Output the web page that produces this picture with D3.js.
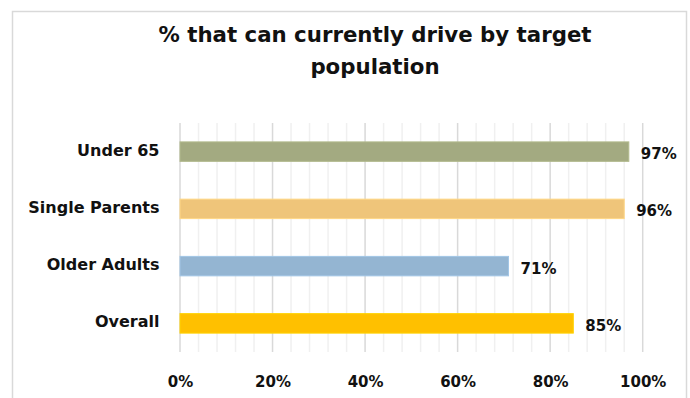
<!DOCTYPE html>
<html>
<head>
<meta charset="utf-8">
<script src="https://cdn.jsdelivr.net/npm/d3@7"></script>
<style>
  html, body { margin: 0; padding: 0; background: #fff; }
  svg { display: block; }
</style>
</head>
<body>
<svg id="chart" width="690" height="398"></svg>
<script>
// Share of each target population that can currently drive
const categories = ["Under 65", "Single Parents", "Older Adults", "Overall"];
const values = [0.97, 0.96, 0.71, 0.85];
const barColors = ["#A3AA81", "#EFC57A", "#94B5D2", "#FFC000"];
const tickValues = [0, 0.2, 0.4, 0.6, 0.8, 1.0];
const titleLines = ["% that can currently drive by target", "population"];

const svg = d3.select("#chart");
const labelFont = "'DejaVu Sans', sans-serif";
const ink = "#111";

// outer frame
svg.append("rect")
  .attr("x", 12.5).attr("y", 11.5)
  .attr("width", 674).attr("height", 400)
  .attr("fill", "none")
  .attr("stroke", "#d9d9d9")
  .attr("stroke-width", 1.5);

// title
svg.append("text")
  .attr("x", 375)
  .attr("text-anchor", "middle")
  .attr("font-family", labelFont)
  .attr("font-weight", 700)
  .attr("font-size", 21.3)
  .attr("fill", ink)
  .selectAll("tspan")
  .data(titleLines)
  .join("tspan")
  .attr("x", 375)
  .attr("y", (d, i) => 42 + i * 32)
  .text(d => d);

// scales
const x = d3.scaleLinear().domain([0, 1]).range([180, 642.7]);
const y = d3.scaleBand()
  .domain(categories)
  .range([123, 352])
  .paddingInner(0.66)
  .paddingOuter(0.33);

// minor grid every 4%, major grid every 20%
const minorTicks = d3.range(0, 101, 4).map(v => v / 100).filter(v => !tickValues.some(t => Math.abs(t - v) < 1e-9));
svg.append("g")
  .selectAll("line")
  .data(minorTicks)
  .join("line")
  .attr("x1", d => x(d)).attr("x2", d => x(d))
  .attr("y1", 123).attr("y2", 352)
  .attr("stroke", "#f0f0f0")
  .attr("stroke-width", 1.5);

svg.append("g")
  .selectAll("line")
  .data(tickValues)
  .join("line")
  .attr("x1", d => x(d)).attr("x2", d => x(d))
  .attr("y1", 123).attr("y2", 352)
  .attr("stroke", "#d9d9d9")
  .attr("stroke-width", 1.5);

// bars
svg.append("g")
  .selectAll("rect")
  .data(categories)
  .join("rect")
  .attr("x", x(0))
  .attr("y", d => y(d))
  .attr("width", (d, i) => x(values[i]) - x(0))
  .attr("height", y.bandwidth())
  .attr("fill", (d, i) => barColors[i])
  .attr("stroke", (d, i) => d3.color(barColors[i]).brighter(0.25))
  .attr("stroke-width", 1);

// value labels
const pct = d3.format(".0%");
svg.append("g")
  .selectAll("text")
  .data(categories)
  .join("text")
  .attr("x", (d, i) => x(values[i]) + 12)
  .attr("y", d => y(d) + y.bandwidth() / 2 + 7.5)
  .attr("font-family", labelFont)
  .attr("font-weight", 700)
  .attr("font-size", 15)
  .attr("fill", ink)
  .text((d, i) => pct(values[i]));

// category axis
const yAxis = svg.append("g")
  .attr("transform", "translate(159.5,0)")
  .call(d3.axisLeft(y).tickSize(0).tickPadding(0));
yAxis.select(".domain").remove();
yAxis.selectAll("text")
  .attr("x", 0)
  .attr("dy", null)
  .attr("y", 4)
  .attr("font-family", labelFont)
  .attr("font-weight", 700)
  .attr("font-size", 16)
  .attr("fill", ink);

// value axis
const xAxis = svg.append("g")
  .attr("transform", "translate(0,352)")
  .call(d3.axisBottom(x).tickValues(tickValues).tickFormat(pct).tickSize(0).tickPadding(0));
xAxis.select(".domain").remove();
xAxis.selectAll("text")
  .attr("dy", null)
  .attr("y", 35)
  .attr("font-family", labelFont)
  .attr("font-weight", 700)
  .attr("font-size", 15)
  .attr("fill", ink);
</script>
</body>
</html>
